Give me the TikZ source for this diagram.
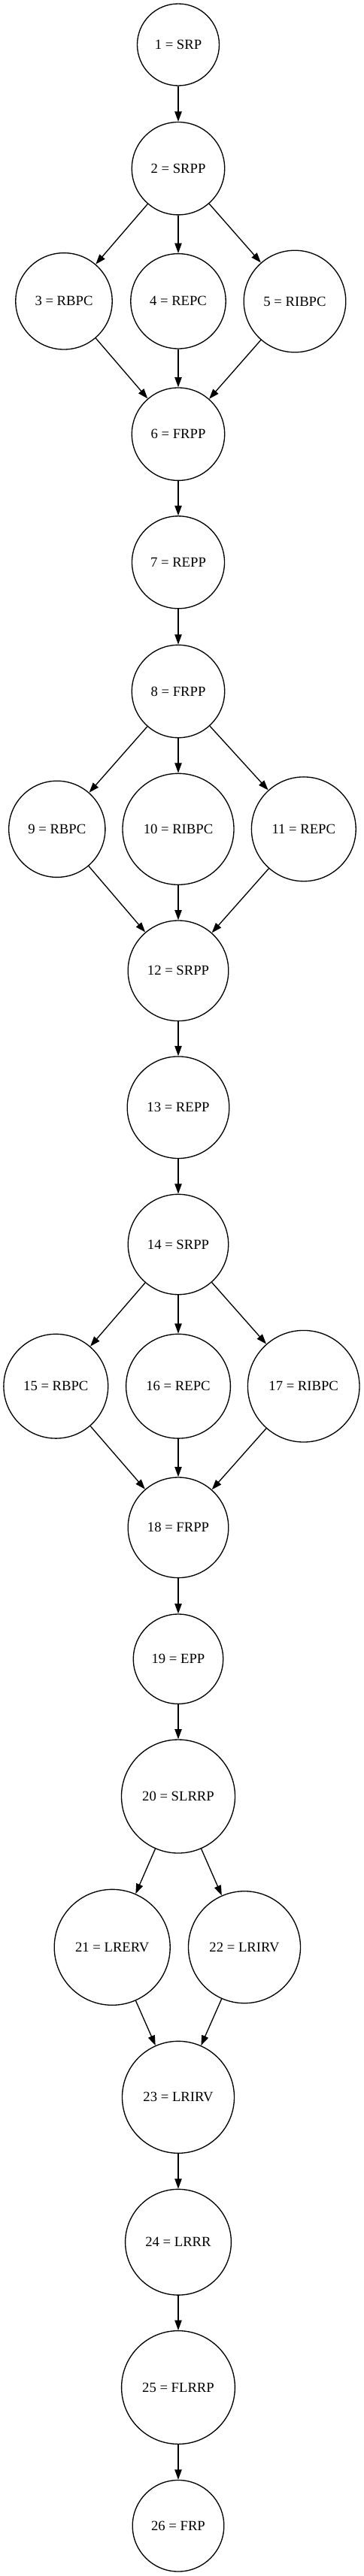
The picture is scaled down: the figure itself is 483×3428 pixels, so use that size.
\documentclass[tikz,border=0pt]{standalone}
\usepackage{fontspec}
\setmainfont{Liberation Serif}
\usepackage{tikz}
\usetikzlibrary{arrows.meta}

\begin{document}
\begin{tikzpicture}[x=0.75pt, y=-0.75pt, line width=1pt, >={Triangle[length=10pt, width=7pt]},
	every node/.style={draw, circle, inner sep=0pt, font=\fontsize{14}{16}\selectfont},
	stnode/.style={minimum size=#1*1.5pt}]
				\useasboundingbox (0,0) rectangle (483,3428);
				\node (n1) at (237,59.5) [stnode=54.5] {1 = SRP};
				\node (n2) at (237,224.2) [stnode=61.7] {2 = SRPP};
				\node (n3) at (85,400.8) [stnode=64.2] {3 = RBPC};
				\node (n4) at (237,400.8) [stnode=63.2] {4 = REPC};
				\node (n5) at (392,401) [stnode=67.8] {5 = RIBPC};
				\node (n6) at (237,577.7) [stnode=61.7] {6 = FRPP};
				\node (n7) at (237,748.3) [stnode=61.5] {7 = REPP};
				\node (n8) at (237,920) [stnode=61.7] {8 = FRPP};
				\node (n9) at (75.8,1103.3) [stnode=64.1] {9 = RBPC};
				\node (n10) at (237,1103.3) [stnode=74] {10 = RIBPC};
				\node (n11) at (403.8,1103.3) [stnode=69.4] {11 = REPC};
				\node (n12) at (237,1291.8) [stnode=66.8] {12 = SRPP};
				\node (n13) at (237,1473.7) [stnode=67.8] {13 = REPP};
				\node (n14) at (237,1656) [stnode=66.7] {14 = SRPP};
				\node (n15) at (74.3,1844.7) [stnode=69.4] {15 = RBPC};
				\node (n16) at (237,1844.7) [stnode=69.4] {16 = REPC};
				\node (n17) at (403.7,1844.7) [stnode=74.3] {17 = RIBPC};
				\node (n18) at (237,2032.8) [stnode=66.8] {18 = FRPP};
				\node (n19) at (237,2207.7) [stnode=59.7] {19 = EPP};
				\node (n20) at (237,2390.5) [stnode=75.5] {20 = SLRRP};
				\node (n21) at (149.2,2591.3) [stnode=77] {21 = LRERV};
				\node (n22) at (325,2591.2) [stnode=74.5] {22 = LRIRV};
				\node (n23) at (237,2790.8) [stnode=74.5] {23 = LRIRV};
				\node (n24) at (237,2983.7) [stnode=70.4] {24 = LRRR};
				\node (n25) at (237,3177) [stnode=75.4] {25 = FLRRP};
				\node (n26) at (237,3361.2) [stnode=60.8] {26 = FRP};

				\draw[->] (n1) -- (n2);
				\draw[->] (n2) -- (n3);
				\draw[->] (n2) -- (n4);
				\draw[->] (n2) -- (n5);
				\draw[->] (n3) -- (n6);
				\draw[->] (n4) -- (n6);
				\draw[->] (n5) -- (n6);
				\draw[->] (n6) -- (n7);
				\draw[->] (n7) -- (n8);
				\draw[->] (n8) -- (n9);
				\draw[->] (n8) -- (n10);
				\draw[->] (n8) -- (n11);
				\draw[->] (n9) -- (n12);
				\draw[->] (n10) -- (n12);
				\draw[->] (n11) -- (n12);
				\draw[->] (n12) -- (n13);
				\draw[->] (n13) -- (n14);
				\draw[->] (n14) -- (n15);
				\draw[->] (n14) -- (n16);
				\draw[->] (n14) -- (n17);
				\draw[->] (n15) -- (n18);
				\draw[->] (n16) -- (n18);
				\draw[->] (n17) -- (n18);
				\draw[->] (n18) -- (n19);
				\draw[->] (n19) -- (n20);
				\draw[->] (n20) -- (n21);
				\draw[->] (n20) -- (n22);
				\draw[->] (n21) -- (n23);
				\draw[->] (n22) -- (n23);
				\draw[->] (n23) -- (n24);
				\draw[->] (n24) -- (n25);
				\draw[->] (n25) -- (n26);
			\end{tikzpicture}
\end{document}
